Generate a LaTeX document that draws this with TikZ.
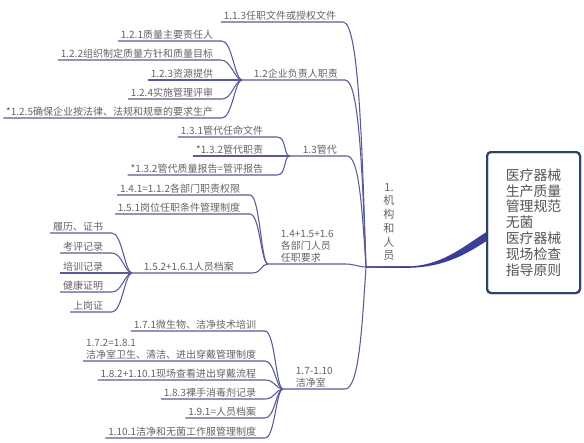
\documentclass[tikz,border=0pt]{standalone}
\usepackage{fontspec}
\setmainfont{Noto Sans CJK SC}
\usetikzlibrary{calc}
\definecolor{linec}{RGB}{88,92,150}
\definecolor{txtc}{RGB}{100,100,100}
\definecolor{boxc}{RGB}{45,68,98}
\definecolor{thickc}{RGB}{58,62,150}
\tikzset{
  leaf/.style={inner xsep=2pt, inner ysep=1.2pt, text=txtc, font=\fontsize{7.5}{8.8}\selectfont, align=left},
  link/.style={draw=linec, line width=0.8pt},
}
\newcommand\lf[6]{%
  \node[leaf,anchor=south east] (#1) at (#2,#3) {#6};
  \draw[link] (#1.south west) -- (#4,#3) .. controls +(10,0) and +(-7,0) .. (#5);}
\begin{document}
\begin{tikzpicture}[x=0.75pt,y=-0.75pt]
\useasboundingbox (0,0) rectangle (584,442);
\fill[white] (0,0) rectangle (584,442);

% hubs
\coordinate (H) at (366,267);
\coordinate (h12) at (242,80);
\coordinate (h13) at (290,156);
\coordinate (h14) at (268,264);
\coordinate (h152) at (132,273);
\coordinate (h17) at (283,389);
% ends of branch underlines
\coordinate (e113) at (343,22);
\coordinate (e12) at (345,80);
\coordinate (e13) at (347,156);
\coordinate (e14) at (345,264);
\coordinate (e17) at (345,389);
\coordinate (e152) at (252,273);

% first level
\node[leaf, anchor=south east] (n113) at (339,22) {1.1.3任职文件或授权文件};
\draw[link] (n113.south west) -- (e113) .. controls +(16,0) and +(-4,-120) .. (H);
\node[leaf, anchor=south west] (n12) at ($(h12)+(9,0)$) {1.2企业负责人职责};
\draw[link] (h12) -- (e12) .. controls +(14,0) and +(-4,-100) .. (H);
\node[leaf, anchor=south west] (n13) at ($(h13)+(10,0)$) {1.3管代};
\draw[link] (h13) -- (e13) .. controls +(12,0) and +(-4,-60) .. (H);
\node[leaf, anchor=south west] (n14) at ($(h14)+(10,0)$) {1.4+1.5+1.6\\各部门人员\\任职要求};
\draw[link] (h14) -- (e14) .. controls +(10,0) and +(-8,0) .. (H);
\node[leaf, anchor=south west] (n17) at ($(h17)+(10,0)$) {1.7-1.10\\洁净室};
\draw[link] (h17) -- (e17) .. controls +(14,0) and +(-4,60) .. (H);

% 1.2 children
\lf{n121}{216}{41}{222}{h12}{1.2.1质量主要责任人}
\lf{n122}{216}{60}{221}{h12}{1.2.2组织制定质量方针和质量目标}
\lf{n123}{216}{80}{222}{h12}{1.2.3资源提供}
\lf{n124}{216}{99}{222}{h12}{1.2.4实施管理评审}
\lf{n125}{216}{118}{222}{h12}{*1.2.5确保企业按法律、法规和规章的要求生产}

% 1.3 children
\lf{n131}{266}{137}{277}{h13}{1.3.1管代任命文件}
\lf{n132}{266}{156}{277}{h13}{*1.3.2管代职责}
\lf{n133}{266}{175}{277}{h13}{*1.3.2管代质量报告=管评报告}

% 1.4 children
\lf{n141}{243}{195}{250}{h14}{1.4.1=1.1.2各部门职责权限}
\lf{n151}{243}{214}{250}{h14}{1.5.1岗位任职条件管理制度}
\node[leaf, anchor=south west] (n152) at ($(h152)+(9,0)$) {1.5.2+1.6.1人员档案};
\draw[link] (h152) -- (e152) .. controls +(10,0) and +(-7,0) .. (h14);

% 1.5.2 children
\lf{p1}{106}{233}{112}{h152}{履历、证书}
\lf{p2}{106}{253}{112}{h152}{考评记录}
\lf{p3}{106}{273}{112}{h152}{培训记录}
\lf{p4}{106}{292}{112}{h152}{健康证明}
\lf{p5}{106}{312}{112}{h152}{上岗证}

% 1.7 children
\lf{n171}{259}{331}{265}{h17}{1.7.1微生物、洁净技术培训}
\lf{n172}{259}{361}{265}{h17}{1.7.2=1.8.1\\洁净室卫生、清洁、进出穿戴管理制度}
\lf{n182}{259}{380}{265}{h17}{1.8.2+1.10.1现场查看进出穿戴流程}
\lf{n183}{259}{399}{265}{h17}{1.8.3裸手消毒剂记录}
\lf{n191}{259}{418}{265}{h17}{1.9.1=人员档案}
\lf{n1101}{259}{438}{265}{h17}{1.10.1洁净和无菌工作服管理制度}

% root label
\node[text=txtc, font=\fontsize{8.3}{10.3}\selectfont, align=center] (root) at (389,222) {1.\\机\\构\\和\\人\\员};

% central box
\node[draw=boxc, line width=1.5pt, rounded corners=3pt, fill=white,
      minimum width=69.75pt, minimum height=105.75pt, align=left,
      text=txtc!85!black, font=\fontsize{10.4}{11.9}\selectfont] (box) at (533.5,222.5)
  {医疗器械\\生产质量\\管理规范\\无菌\\医疗器械\\现场检查\\指导原则};

% thick connector
\coordinate (bj) at ($(box.south west)!0.40!(box.north west)$);
\draw[link] (H) -- (410,267);
\fill[thickc] (H) -- (405,266.5) .. controls (440,266.5) and (460,249) .. ($(bj)+(0,-4.5)$)
  -- ($(bj)+(0,4.5)$) .. controls (462,257) and (440,267.9) .. (405,267.9) -- cycle;
\node[draw=boxc, line width=1.5pt, rounded corners=3pt, minimum width=69.75pt, minimum height=105.75pt] at (box) {};
\end{tikzpicture}
\end{document}
